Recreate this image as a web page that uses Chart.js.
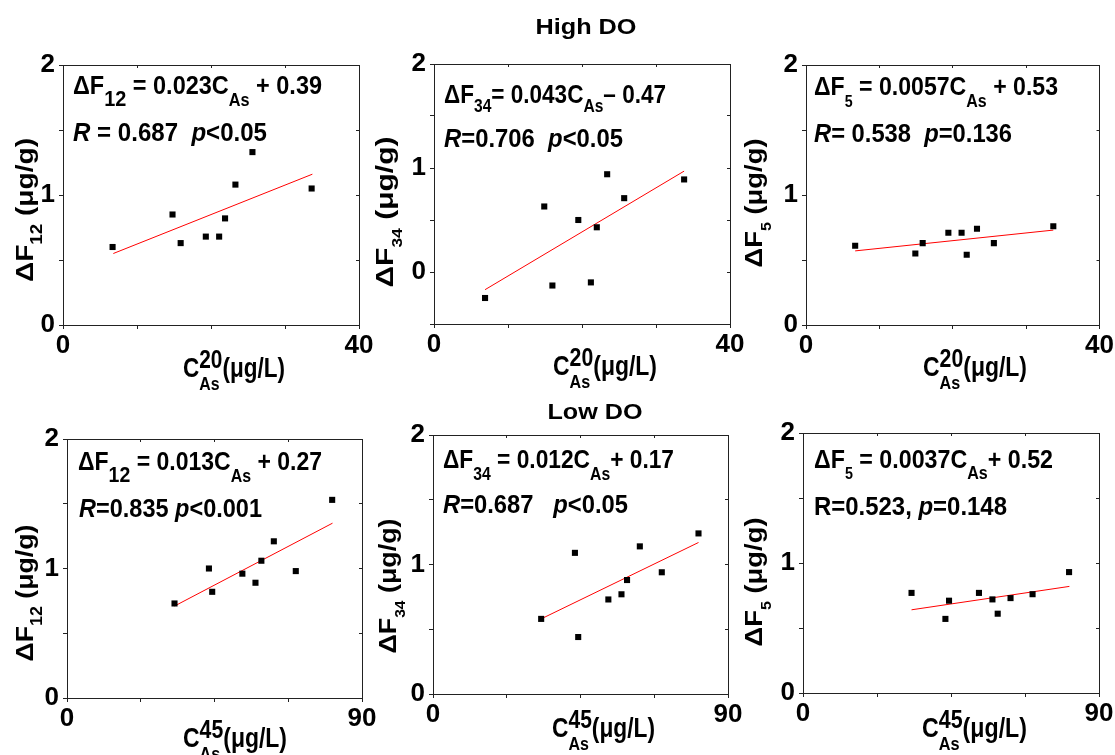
<!DOCTYPE html>
<html>
<head>
<meta charset="utf-8">
<script src="https://cdn.jsdelivr.net/npm/chart.js@4.4.1/dist/chart.umd.min.js"></script>
<style>
html,body{margin:0;padding:0;background:#fff;}
#wrap{position:relative;width:1115px;height:755px;overflow:hidden;background:#fff;}
canvas{position:absolute;left:0;top:0;}
</style>
</head>
<body>
<div id="wrap"></div>
<script>
// ---------------- DATA ----------------
// High DO panels (C_As^20, µg/L)
const hiF12X = [6.7, 14.8, 15.9, 19.3, 21.1, 21.9, 23.3, 25.6, 33.6];
const hiF12Y = [0.60, 0.85, 0.63, 0.68, 0.68, 0.82, 1.08, 1.33, 1.05];
const hiF12FitX = [6.8, 33.7];
const hiF12FitY = [0.55, 1.16];

const hiF34X = [6.9, 14.9, 16.0, 19.5, 21.2, 22.0, 23.4, 25.7, 33.8];
const hiF34Y = [-0.25, 0.63, -0.13, 0.50, -0.10, 0.43, 0.94, 0.71, 0.89];
const hiF34FitX = [6.9, 33.8];
const hiF34FitY = [-0.17, 0.97];

const hiF5X = [6.7, 14.9, 15.9, 19.4, 21.2, 21.9, 23.3, 25.6, 33.7];
const hiF5Y = [0.61, 0.55, 0.63, 0.71, 0.71, 0.54, 0.74, 0.63, 0.76];
const hiF5FitX = [6.7, 33.7];
const hiF5FitY = [0.57, 0.73];

// Low DO panels (C_As^45, µg/L)
const loF12X = [32.8, 43.3, 44.3, 53.5, 57.5, 59.3, 63.1, 69.8, 80.9];
const loF12Y = [0.73, 1.00, 0.82, 0.96, 0.89, 1.06, 1.21, 0.98, 1.53];
const loF12FitX = [32.8, 81.0];
const loF12FitY = [0.71, 1.35];

const loF34X = [33.0, 43.3, 44.3, 53.5, 57.5, 59.2, 63.1, 69.8, 81.0];
const loF34Y = [0.58, 1.09, 0.44, 0.73, 0.77, 0.88, 1.14, 0.94, 1.24];
const loF34FitX = [33.0, 81.0];
const loF34FitY = [0.58, 1.17];

const loF5X = [33.0, 43.3, 44.4, 53.5, 57.6, 59.2, 63.1, 69.8, 80.9];
const loF5Y = [0.77, 0.57, 0.71, 0.77, 0.72, 0.61, 0.73, 0.76, 0.93];
const loF5FitX = [33.0, 81.0];
const loF5FitY = [0.64, 0.82];

// Tick values and labels (middle label is drawn as the title's superscript)
const xTicksHigh = [0, 10, 20, 30, 40];
const xLabelsHigh = ['0', '', '', '', '40'];
const xSupHigh = '20';
const xTicksLow = [0, 22.5, 45, 67.5, 90];
const xLabelsLow = ['0', '', '', '', '90'];
const xSupLow = '45';
const yTicks = [0, 0.5, 1, 1.5, 2];
const yLabels = ['0', '', '1', '', '2'];
const yTicksF34 = [-0.5, 0, 0.5, 1, 1.5, 2];
const yLabelsF34 = ['', '0', '', '1', '', '2'];

// Text
const groupTitles = ['High DO', 'Low DO'];
// ---------------- END DATA ----------------

const NARROW = '"Liberation Sans Narrow","Arial Narrow","Liberation Sans",Arial,sans-serif';
const SANS = '"Liberation Sans",Arial,sans-serif';

function segFont(s, fam) {
  return (s.it ? 'italic ' : '') + 'bold ' + s.size + 'px ' + (s.fam || fam);
}
function layoutRich(ctx, segs, fam) {
  let x = 0, prevStart = 0, prevW = 0;
  const out = [];
  segs.forEach(s => {
    ctx.font = segFont(s, fam);
    const w = ctx.measureText(s.t).width;
    if (s.stack) {
      out.push({s, x: prevStart});
      x = prevStart + Math.max(prevW, w);
      prevW = Math.max(prevW, w);
    } else {
      out.push({s, x});
      prevStart = x; prevW = w;
      x += w;
    }
  });
  return {items: out, width: x};
}
function drawRich(ctx, segs, x, y, opt) {
  opt = opt || {};
  const fam = opt.fam || NARROW;
  const L = layoutRich(ctx, segs, fam);
  const sc = opt.width ? opt.width / L.width : 1;
  ctx.save();
  ctx.translate(x, y);
  if (opt.rotate) ctx.rotate(opt.rotate);
  const x0 = opt.align === 'center' ? -L.width * sc / 2 : 0;
  ctx.translate(x0, 0);
  ctx.scale(sc, 1);
  ctx.fillStyle = '#000';
  ctx.textBaseline = 'alphabetic';
  ctx.textAlign = 'left';
  L.items.forEach(it => {
    ctx.font = segFont(it.s, fam);
    ctx.fillText(it.s.t, it.x, it.s.dy || 0);
  });
  ctx.restore();
}

const M = 26, SUB = 18;
function eqSegs(idx, idxSize, dy, mid, tail) {
  return [
    {t: 'ΔF', size: M},
    {t: idx, size: idxSize, dy: dy},
    {t: mid, size: M},
    {t: 'As', size: SUB, dy: dy},
    {t: tail, size: M}
  ];
}
function xTitleSegs(sup) {
  return [
    {t: 'C', size: 27},
    {t: sup, size: 25, dy: -9},
    {t: 'As', size: 19, dy: 13, stack: true},
    {t: '(μg/L)', size: 27}
  ];
}
function yTitleSegs(idx, idxSize) {
  return [
    {t: 'ΔF', size: 24, fam: SANS},
    {t: idx, size: idxSize, dy: 9, fam: SANS},
    {t: ' (μg/g)', size: 24, fam: SANS}
  ];
}

const panels = [
  {xs: hiF12X, ys: hiF12Y, fx: hiF12FitX, fy: hiF12FitY, area: [63, 65, 359, 325], xmax: 40, xt: xTicksHigh, xl: xLabelsHigh, ymin: 0, yt: yTicks, yl: yLabels,
   texts: [
     {segs: eqSegs('12', 22, 12, ' = 0.023C', ' + 0.39'), x: 73, y: 94, w: 249},
     {segs: [{t: 'R', size: M, it: true}, {t: ' = 0.687  ', size: M}, {t: 'p', size: M, it: true}, {t: '<0.05', size: M}], x: 73, y: 141, w: 194},
     {segs: xTitleSegs(xSupHigh), x: 183, y: 377, w: 102},
     {segs: yTitleSegs('12', 16), x: 33, y: 210, w: 144, rot: true},
     {segs: [{t: groupTitles[0], size: 22}], x: 586, y: 34, w: 101, center: true, fam: SANS}
   ]},
  {xs: hiF34X, ys: hiF34Y, fx: hiF34FitX, fy: hiF34FitY, area: [434, 64, 730, 324], xmax: 40, xt: xTicksHigh, xl: xLabelsHigh, ymin: -0.5, yt: yTicksF34, yl: yLabelsF34,
   texts: [
     {segs: eqSegs('34', 18, 9, '= 0.043C', '– 0.47'), x: 444, y: 103, w: 222},
     {segs: [{t: 'R', size: M, it: true}, {t: '=0.706  ', size: M}, {t: 'p', size: M, it: true}, {t: '<0.05', size: M}], x: 444, y: 147, w: 179},
     {segs: xTitleSegs(xSupHigh), x: 553, y: 375, w: 104},
     {segs: yTitleSegs('34', 14), x: 393, y: 212, w: 151, rot: true}
   ]},
  {xs: hiF5X, ys: hiF5Y, fx: hiF5FitX, fy: hiF5FitY, area: [806, 65, 1102, 325], xmax: 40, xt: xTicksHigh, xl: xLabelsHigh, ymin: 0, yt: yTicks, yl: yLabels,
   texts: [
     {segs: eqSegs('5', 16, 12, ' = 0.0057C', ' + 0.53'), x: 814, y: 95, w: 244},
     {segs: [{t: 'R', size: M, it: true}, {t: '= 0.538  ', size: M}, {t: 'p', size: M, it: true}, {t: '=0.136', size: M}], x: 814, y: 142, w: 198},
     {segs: xTitleSegs(xSupHigh), x: 923, y: 376, w: 104},
     {segs: yTitleSegs('5', 14), x: 762, y: 203, w: 129, rot: true}
   ]},
  {xs: loF12X, ys: loF12Y, fx: loF12FitX, fy: loF12FitY, area: [67, 439, 362, 698], xmax: 90, xt: xTicksLow, xl: xLabelsLow, ymin: 0, yt: yTicks, yl: yLabels,
   texts: [
     {segs: eqSegs('12', 22, 12, ' = 0.013C', ' + 0.27'), x: 78, y: 470, w: 244},
     {segs: [{t: 'R', size: M, it: true}, {t: '=0.835 ', size: M}, {t: 'p', size: M, it: true}, {t: '<0.001', size: M}], x: 79, y: 517, w: 183},
     {segs: xTitleSegs(xSupLow), x: 183, y: 747, w: 104},
     {segs: yTitleSegs('12', 16), x: 33, y: 593, w: 137, rot: true}
   ]},
  {xs: loF34X, ys: loF34Y, fx: loF34FitX, fy: loF34FitY, area: [433, 435, 728, 694], xmax: 90, xt: xTicksLow, xl: xLabelsLow, ymin: 0, yt: yTicks, yl: yLabels,
   texts: [
     {segs: eqSegs('34', 18, 12, ' = 0.012C', '+ 0.17'), x: 443, y: 468, w: 231},
     {segs: [{t: 'R', size: M, it: true}, {t: '=0.687   ', size: M}, {t: 'p', size: M, it: true}, {t: '<0.05', size: M}], x: 443, y: 513, w: 185},
     {segs: xTitleSegs(xSupLow), x: 552, y: 737, w: 103},
     {segs: yTitleSegs('34', 14), x: 396, y: 586, w: 135, rot: true},
     {segs: [{t: groupTitles[1], size: 22}], x: 595, y: 419, w: 95, center: true, fam: SANS}
   ]},
  {xs: loF5X, ys: loF5Y, fx: loF5FitX, fy: loF5FitY, area: [803, 433, 1099, 693], xmax: 90, xt: xTicksLow, xl: xLabelsLow, ymin: 0, yt: yTicks, yl: yLabels,
   texts: [
     {segs: eqSegs('5', 16, 11, ' = 0.0037C', '+ 0.52'), x: 814, y: 468, w: 239},
     {segs: [{t: 'R=0.523, ', size: M}, {t: 'p', size: M, it: true}, {t: '=0.148', size: M}], x: 814, y: 515, w: 193},
     {segs: xTitleSegs(xSupLow), x: 922, y: 737, w: 105},
     {segs: yTitleSegs('5', 14), x: 762, y: 582, w: 129, rot: true}
   ]}
];

const textPlugin = {
  id: 'richText',
  afterDraw(chart) {
    const ctx = chart.ctx;
    (chart.options.plugins.richText.items || []).forEach(t => {
      drawRich(ctx, t.segs, t.x, t.y, {width: t.w, align: (t.center || t.rot) ? 'center' : 'left', rotate: t.rot ? -Math.PI / 2 : 0, fam: t.fam});
    });
  }
};

const YW = 60, XH = 40;
const AXC = '#222';
const tickFont = {family: NARROW, size: 26, weight: 'bold'};
const wrap = document.getElementById('wrap');

panels.forEach(p => {
  const cv = document.createElement('canvas');
  cv.width = 1115; cv.height = 755;
  cv.style.width = '1115px'; cv.style.height = '755px';
  wrap.appendChild(cv);
  const [L, T, R, B] = p.area;
  const pts = p.xs.map((v, i) => ({x: v, y: p.ys[i]}));
  const fit = p.fx.map((v, i) => ({x: v, y: p.fy[i]}));
  const setX = s => { s.ticks = p.xt.map(v => ({value: v})); };
  const setY = s => { s.ticks = p.yt.map(v => ({value: v})); };
  new Chart(cv, {
    type: 'scatter',
    data: {
      datasets: [
        {data: pts, pointStyle: 'rect', pointRadius: 4.3, backgroundColor: '#000', borderColor: '#000', borderWidth: 0, order: 1},
        {data: fit, showLine: true, borderColor: '#ff0000', borderWidth: 1, pointRadius: 0, fill: false, order: 2}
      ]
    },
    options: {
      responsive: false,
      animation: false,
      events: [],
      devicePixelRatio: 1,
      layout: {padding: {left: L - YW, top: T, right: 1115 - R, bottom: 755 - B - XH}},
      plugins: {legend: {display: false}, tooltip: {enabled: false}, title: {display: false},
                richText: {items: p.texts}},
      scales: {
        x: {type: 'linear', position: 'bottom', min: 0, max: p.xmax,
            afterBuildTicks: setX,
            afterFit: s => { s.height = XH; },
            ticks: {callback: (v, i) => p.xl[i], font: tickFont, color: '#000', padding: 1, maxRotation: 0, autoSkip: false},
            grid: {drawOnChartArea: false, drawTicks: true, tickLength: 4, color: AXC, lineWidth: 1},
            border: {display: true, color: AXC, width: 1}},
        y: {type: 'linear', position: 'left', min: p.ymin, max: 2,
            afterBuildTicks: setY,
            afterFit: s => { s.width = YW; },
            ticks: {callback: (v, i) => p.yl[i], font: tickFont, color: '#000', padding: 4, autoSkip: false},
            grid: {drawOnChartArea: false, drawTicks: true, tickLength: 4, color: AXC, lineWidth: 1},
            border: {display: true, color: AXC, width: 1}},
        x2: {type: 'linear', position: 'top', min: 0, max: p.xmax,
            afterBuildTicks: setX,
            afterFit: s => { s.height = 0; },
            ticks: {display: false},
            grid: {drawOnChartArea: false, drawTicks: true, tickLength: -3, color: AXC, lineWidth: 1},
            border: {display: true, color: AXC, width: 1}},
        y2: {type: 'linear', position: 'right', min: p.ymin, max: 2,
            afterBuildTicks: setY,
            afterFit: s => { s.width = 0; },
            ticks: {display: false},
            grid: {drawOnChartArea: false, drawTicks: true, tickLength: -3, color: AXC, lineWidth: 1},
            border: {display: true, color: AXC, width: 1}}
      }
    },
    plugins: [textPlugin]
  });
});
</script>
</body>
</html>
